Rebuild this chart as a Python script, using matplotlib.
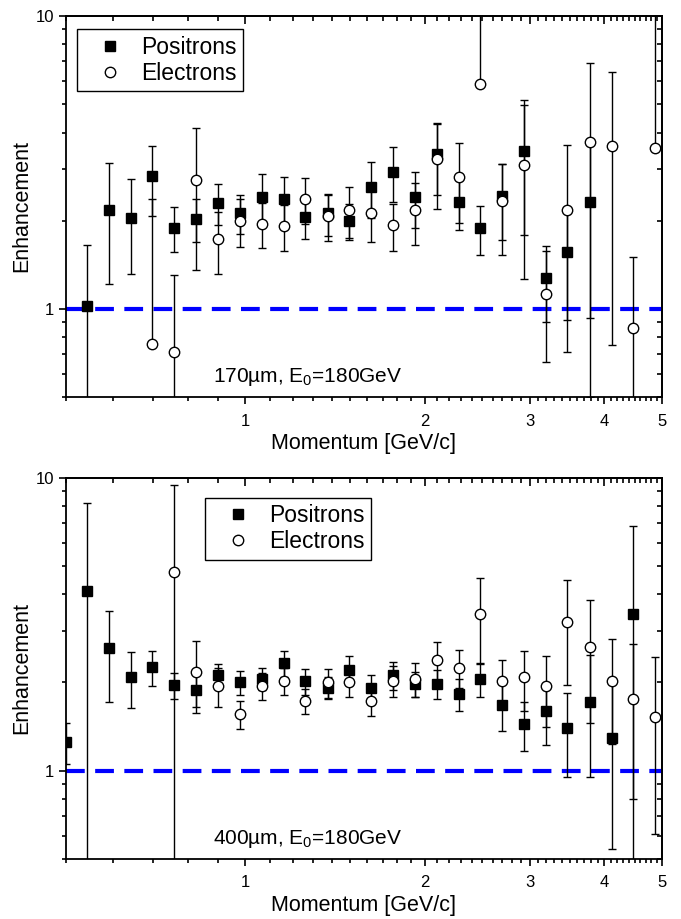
import matplotlib
matplotlib.use("Agg")
import matplotlib.pyplot as plt
import numpy as np
from matplotlib.ticker import FixedLocator, NullFormatter, LogLocator, FixedFormatter
from matplotlib.lines import Line2D

plt.rcParams['font.family'] = ['Liberation Sans', 'DejaVu Sans']
plt.rcParams['mathtext.fontset'] = 'custom'
plt.rcParams['mathtext.rm'] = 'Liberation Sans'
plt.rcParams['mathtext.it'] = 'Liberation Sans:italic'

nan = np.nan

# momentum bins [GeV/c]
momentum = [0.500, 0.543, 0.591, 0.642, 0.698, 0.760, 0.827, 0.900, 0.978,
            1.066, 1.159, 1.261, 1.374, 1.492, 1.625, 1.768, 1.927, 2.095,
            2.279, 2.479, 2.696, 2.937, 3.20, 3.47, 3.785, 4.12, 4.48, 4.87]

# 170 um
pos_170 = [nan, 1.02, 2.18, 2.05, 2.84, 1.89, 2.03, 2.30, 2.12, 2.41, 2.38, 2.06,
           2.12, 2.00, 2.61, 2.94, 2.41, 3.37, 2.31, 1.89, 2.42, 3.47, 1.27, 1.56,
           2.31, nan, nan, nan]
pos_170_err = [nan, 0.63, 0.96, 0.73, 0.77, 0.33, 0.34, 0.37, 0.32, 0.47, 0.44, 0.33,
               0.34, 0.28, 0.57, 0.63, 0.52, 0.93, 0.45, 0.36, 0.70, 1.68, 0.37, 0.645,
               1.38, nan, nan, nan]
ele_170 = [nan, nan, nan, nan, 0.76, 0.71, 2.76, 1.73, 2.00, 1.95, 1.92, 2.37,
           2.08, 2.17, 2.13, 1.93, 2.17, 3.24, 2.82, 5.84, 2.33, 3.11, 1.12, 2.17,
           3.70, 3.60, 0.862, 3.54]
ele_170_err = [nan, nan, nan, nan, 1.61, 0.60, 1.40, 0.41, 0.38, 0.34, 0.34, 0.42,
               0.37, 0.43, 0.44, 0.35, 0.52, 1.05, 0.85, 6.5, 0.80, 1.85, 0.46, 1.46,
               3.20, 2.85, 0.64, 7.0]

# 400 um
pos_400 = [1.25, 4.12, 2.62, 2.09, 2.26, 1.96, 1.89, 2.12, 2.00, 2.06, 2.33, 2.02,
           1.92, 2.21, 1.92, 2.12, 1.98, 1.98, 1.83, 2.06, 1.68, 1.44, 1.595, 1.395,
           1.72, 1.29, 3.43, nan]
pos_400_err = [0.2, 4.05, 0.90, 0.45, 0.31, 0.20, 0.24, 0.20, 0.19, 0.18, 0.24, 0.21,
               0.16, 0.25, 0.20, 0.23, 0.20, 0.22, 0.23, 0.27, 0.31, 0.27, 0.37, 0.44,
               0.77, 0.75, 3.40, nan]
ele_400 = [nan, nan, nan, nan, nan, 4.76, 2.17, 1.95, 1.56, 1.95, 2.03, 1.73,
           2.00, 2.00, 1.73, 2.03, 2.06, 2.38, 2.25, 3.43, 2.02, 2.08, 1.94, 3.21,
           2.64, 2.02, 1.75, 1.53]
ele_400_err = [nan, nan, nan, nan, nan, 4.7, 0.6, 0.30, 0.17, 0.21, 0.22, 0.17,
               0.23, 0.22, 0.19, 0.25, 0.27, 0.36, 0.34, 1.11, 0.37, 0.48, 0.53, 1.25,
               1.19, 0.79, 0.95, 0.92]

panels = [
    ("170\u00b5m, E$_0$=180GeV", pos_170, pos_170_err, ele_170, ele_170_err, (0.018, 0.966)),
    ("400\u00b5m, E$_0$=180GeV", pos_400, pos_400_err, ele_400, ele_400_err, (0.233, 0.948)),
]

fig = plt.figure(figsize=(6.81, 9.19), dpi=100)
rects = [[0.0969, 0.568, 0.875, 0.4146], [0.0969, 0.0655, 0.875, 0.4146]]

x = np.array(momentum)
major_x = [1, 2, 3, 4, 5]
minor_x = [v / 10 for v in range(5, 51) if v % 10 != 0]


def err_pair(y, e):
    y = np.array(y)
    e = np.array(e)
    lo = np.where(y - e > 0, e, 0.0)  # negative lower limits are not drawn on log axis
    return [lo, e]


for rect, (label, pos, pos_err, ele, ele_err, leg_xy) in zip(rects, panels):
    ax = fig.add_axes(rect)
    ax.set_xscale('log')
    ax.set_yscale('log')
    ax.set_xlim(0.5, 5)
    ax.set_ylim(0.5, 10)

    ax.axhline(1, color='#0000ff', lw=3, ls=(0, (4.5, 2.5)), zorder=2.5)

    ax.errorbar(x, pos, yerr=err_pair(pos, pos_err), fmt='s', color='black',
                ms=7, elinewidth=1, capsize=3, capthick=1, zorder=3)
    ax.errorbar(x, ele, yerr=err_pair(ele, ele_err), fmt='o', color='black',
                mfc='white', mec='black', mew=1, ms=7.5, elinewidth=1,
                capsize=3, capthick=1, zorder=4)

    ax.xaxis.set_major_locator(FixedLocator(major_x))
    ax.xaxis.set_major_formatter(FixedFormatter([str(v) for v in major_x]))
    ax.xaxis.set_minor_locator(FixedLocator(minor_x))
    ax.xaxis.set_minor_formatter(NullFormatter())
    ax.yaxis.set_major_locator(FixedLocator([1, 10]))
    ax.yaxis.set_major_formatter(FixedFormatter(['1', '10']))
    ax.yaxis.set_minor_locator(LogLocator(subs=np.arange(2, 10)))
    ax.yaxis.set_minor_formatter(NullFormatter())
    ax.tick_params(which='both', direction='out', top=False, right=False,
                   labelsize=12, width=1.2)
    ax.tick_params(which='major', length=5)
    ax.tick_params(which='minor', length=3)
    ax.tick_params(axis='x', which='major', pad=7)

    secx = ax.secondary_xaxis('top')
    secx.xaxis.set_major_locator(FixedLocator(major_x))
    secx.xaxis.set_minor_locator(FixedLocator(minor_x))
    secx.xaxis.set_major_formatter(NullFormatter())
    secx.xaxis.set_minor_formatter(NullFormatter())
    secx.tick_params(which='both', direction='in', width=1.2)
    secx.tick_params(which='major', length=6)
    secx.tick_params(which='minor', length=3.5)

    secy = ax.secondary_yaxis('right')
    secy.yaxis.set_major_locator(FixedLocator([1, 10]))
    secy.yaxis.set_minor_locator(LogLocator(subs=np.arange(2, 10)))
    secy.yaxis.set_major_formatter(NullFormatter())
    secy.yaxis.set_minor_formatter(NullFormatter())
    secy.tick_params(which='both', direction='in', width=1.2)
    secy.tick_params(which='major', length=6)
    secy.tick_params(which='minor', length=3.5)

    for sp in list(ax.spines.values()) + [secx.spines['top'], secy.spines['right']]:
        sp.set_linewidth(1.3)

    ax.set_xlabel("Momentum [GeV/c]", fontsize=15.5, labelpad=3)
    ax.set_ylabel("Enhancement", fontsize=15.5)
    ax.yaxis.set_label_coords(-0.057, 0.5)

    ax.text(0.247, 0.052, label, transform=ax.transAxes, fontsize=15,
            va='center', ha='left')

    handles = [
        Line2D([], [], ls='none', marker='s', color='black', ms=7),
        Line2D([], [], ls='none', marker='o', mfc='white', mec='black', mew=1, ms=7.5),
    ]
    leg = ax.legend(handles, ['Positrons', 'Electrons'], loc='upper left',
                    bbox_to_anchor=leg_xy, borderaxespad=0, fontsize=16.5,
                    fancybox=False, edgecolor='black', framealpha=1,
                    handlelength=2.3, handletextpad=0.2, labelspacing=0.12,
                    borderpad=0.3)
    leg.get_frame().set_linewidth(1.0)

fig.savefig("out.png", dpi=100)
